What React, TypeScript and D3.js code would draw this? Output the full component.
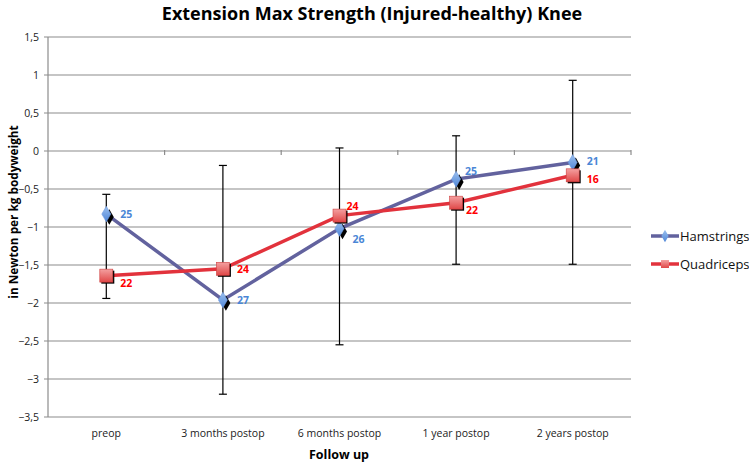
import React, { useEffect, useRef } from 'react';
import * as d3 from 'd3';

const categories = ['preop', '3 months postop', '6 months postop', '1 year postop', '2 years postop'];
const hamstrings = [-0.83, -1.96, -1.02, -0.37, -0.15];
const quadriceps = [-1.64, -1.55, -0.85, -0.68, -0.32];
const hamstringsN = ['25', '27', '26', '25', '21'];
const quadricepsN = ['22', '24', '24', '22', '16'];
const errHigh = [-0.57, -0.19, 0.04, 0.2, 0.93];
const errLow = [-1.94, -3.2, -2.55, -1.49, -1.49];
const yTicks = [1.5, 1, 0.5, 0, -0.5, -1, -1.5, -2, -2.5, -3, -3.5];

// label offsets [dx, dy] relative to the point (dy = vertical centre offset)
const hamLabelPos = [[14, 0], [14, 0], [13, 10], [9, -8], [14, -1]];
const quadLabelPos = [[14, 7], [14, 0], [7, -10], [10, 7], [14, 4]];

const FONT = '"Open Sans", sans-serif';

const App: React.FC = () => {
  const ref = useRef<SVGSVGElement>(null);

  useEffect(() => {
    const svgWidth = 749, svgHeight = 462;
    const margin = { top: 37, left: 48, right: 118, bottom: 45 };

    const svg = d3.select(ref.current);
    svg.selectAll('*').remove();

    const x = d3.scaleBand()
      .domain(categories)
      .range([margin.left, svgWidth - margin.right]);

    const y = d3.scaleLinear()
      .domain([-3.5, 1.5])
      .range([svgHeight - margin.bottom, margin.top]);

    const cx = (c: string) => (x(c) ?? 0) + x.bandwidth() / 2;

    // title
    svg.append('text')
      .attr('x', 372).attr('y', 20)
      .attr('text-anchor', 'middle')
      .attr('font-family', FONT).attr('font-weight', 'bold').attr('font-size', 18)
      .attr('fill', '#000')
      .text('Extension Max Strength (Injured-healthy) Knee');

    // gridlines
    svg.append('g').selectAll('line')
      .data(yTicks)
      .enter().append('line')
      .attr('x1', margin.left - 4).attr('x2', svgWidth - margin.right)
      .attr('y1', d => y(d)).attr('y2', d => y(d))
      .attr('stroke', '#8c8c8c').attr('stroke-width', 1.2);

    // y axis line
    svg.append('line')
      .attr('x1', margin.left).attr('x2', margin.left)
      .attr('y1', y(1.5)).attr('y2', y(-3.5))
      .attr('stroke', '#8c8c8c').attr('stroke-width', 1.2);

    // y tick labels
    svg.append('g').selectAll('text')
      .data(yTicks)
      .enter().append('text')
      .attr('x', margin.left - 9).attr('y', d => y(d) + 4)
      .attr('text-anchor', 'end')
      .attr('font-family', FONT).attr('font-size', 10.5).attr('fill', '#222')
      .text(d => d3.format('')(d).replace('.', ','));

    // category boundary ticks on the zero line
    const bounds = categories.map(c => (x(c) ?? 0) + x.bandwidth());
    svg.append('g').selectAll('line')
      .data(bounds)
      .enter().append('line')
      .attr('x1', d => d).attr('x2', d => d)
      .attr('y1', y(0) - 1).attr('y2', y(0) + 4)
      .attr('stroke', '#8c8c8c').attr('stroke-width', 1.2);

    // x labels
    svg.append('g').selectAll('text')
      .data(categories)
      .enter().append('text')
      .attr('x', d => cx(d)).attr('y', svgHeight - margin.bottom + 20)
      .attr('text-anchor', 'middle')
      .attr('font-family', FONT).attr('font-size', 10.5).attr('fill', '#222')
      .text(d => d);

    // axis titles
    svg.append('text')
      .attr('x', 339).attr('y', 459)
      .attr('text-anchor', 'middle')
      .attr('font-family', FONT).attr('font-weight', 'bold').attr('font-size', 12.5)
      .text('Follow up');

    svg.append('text')
      .attr('transform', 'translate(18,212) rotate(-90)')
      .attr('text-anchor', 'middle')
      .attr('font-family', FONT).attr('font-weight', 'bold').attr('font-size', 11.8)
      .text('in Newton per kg bodyweight');

    // error bars
    const eb = svg.append('g').attr('stroke', '#000').attr('stroke-width', 1.2);
    categories.forEach((c, i) => {
      eb.append('line')
        .attr('x1', cx(c)).attr('x2', cx(c))
        .attr('y1', y(errHigh[i])).attr('y2', y(errLow[i]));
      [errHigh[i], errLow[i]].forEach(v => {
        eb.append('line')
          .attr('x1', cx(c) - 4).attr('x2', cx(c) + 4)
          .attr('y1', y(v)).attr('y2', y(v));
      });
    });

    const defs = svg.append('defs');
    const rg = defs.append('linearGradient').attr('id', 'quadGrad')
      .attr('x1', 0).attr('y1', 0).attr('x2', 0).attr('y2', 1);
    rg.append('stop').attr('offset', '0%').attr('stop-color', '#f4a0a0');
    rg.append('stop').attr('offset', '100%').attr('stop-color', '#e04848');
    const bg = defs.append('linearGradient').attr('id', 'hamGrad')
      .attr('x1', 0).attr('y1', 0).attr('x2', 0).attr('y2', 1);
    bg.append('stop').attr('offset', '0%').attr('stop-color', '#9cc0ee');
    bg.append('stop').attr('offset', '100%').attr('stop-color', '#4f86d8');

    const line = d3.line<number>()
      .x((_, i) => cx(categories[i]))
      .y(d => y(d));

    svg.append('path')
      .datum(hamstrings)
      .attr('d', line)
      .attr('fill', 'none').attr('stroke', '#62629e').attr('stroke-width', 3.5);

    svg.append('path')
      .datum(quadriceps)
      .attr('d', line)
      .attr('fill', 'none').attr('stroke', '#e2323c').attr('stroke-width', 3.5);

    const diamond = d3.symbol().type(d3.symbolDiamond).size(70);

    // shadows
    svg.append('g').selectAll('path')
      .data(hamstrings)
      .enter().append('path')
      .attr('d', diamond)
      .attr('transform', (d, i) => `translate(${cx(categories[i]) + 3},${y(d) + 3})`)
      .attr('fill', '#000');

    svg.append('g').selectAll('path')
      .data(hamstrings)
      .enter().append('path')
      .attr('d', diamond)
      .attr('transform', (d, i) => `translate(${cx(categories[i])},${y(d)})`)
      .attr('fill', 'url(#hamGrad)').attr('stroke', '#6f9be0').attr('stroke-width', 0.6);

    svg.append('g').selectAll('rect')
      .data(quadriceps)
      .enter().append('rect')
      .attr('x', (d, i) => cx(categories[i]) - 5)
      .attr('y', d => y(d) - 5)
      .attr('width', 13).attr('height', 13)
      .attr('fill', '#000');

    svg.append('g').selectAll('rect')
      .data(quadriceps)
      .enter().append('rect')
      .attr('x', (d, i) => cx(categories[i]) - 6.5)
      .attr('y', d => y(d) - 6.5)
      .attr('width', 13).attr('height', 13)
      .attr('fill', 'url(#quadGrad)').attr('stroke', '#d04040').attr('stroke-width', 0.6);

    // data labels
    svg.append('g').selectAll('text')
      .data(hamstrings)
      .enter().append('text')
      .attr('x', (d, i) => cx(categories[i]) + hamLabelPos[i][0])
      .attr('y', (d, i) => y(d) + hamLabelPos[i][1] + 4)
      .attr('font-family', FONT).attr('font-weight', 'bold').attr('font-size', 10.5)
      .attr('fill', '#4a86d6')
      .text((d, i) => hamstringsN[i]);

    svg.append('g').selectAll('text')
      .data(quadriceps)
      .enter().append('text')
      .attr('x', (d, i) => cx(categories[i]) + quadLabelPos[i][0])
      .attr('y', (d, i) => y(d) + quadLabelPos[i][1] + 4)
      .attr('font-family', FONT).attr('font-weight', 'bold').attr('font-size', 10.5)
      .attr('fill', '#ff0000')
      .text((d, i) => quadricepsN[i]);

    // legend
    const legend = svg.append('g').attr('transform', 'translate(651,236)');
    const series = [
      { name: 'Hamstrings', stroke: '#62629e', marker: 'diamond' },
      { name: 'Quadriceps', stroke: '#e2323c', marker: 'square' },
    ];
    series.forEach((s, i) => {
      const g = legend.append('g').attr('transform', `translate(0,${i * 28})`);
      g.append('line').attr('x1', 0).attr('x2', 28).attr('y1', 0).attr('y2', 0)
        .attr('stroke', s.stroke).attr('stroke-width', 3.5);
      if (s.marker === 'diamond') {
        g.append('path').attr('d', d3.symbol().type(d3.symbolDiamond).size(45)())
          .attr('transform', 'translate(14,0)').attr('fill', 'url(#hamGrad)');
      } else {
        g.append('rect').attr('x', 10).attr('y', -4).attr('width', 8).attr('height', 8)
          .attr('fill', 'url(#quadGrad)');
      }
      g.append('text').attr('x', 29).attr('y', 5)
        .attr('font-family', FONT).attr('font-size', 13).attr('fill', '#111')
        .text(s.name);
    });
  }, []);

  return (
    <svg ref={ref} width={749} height={462}
      style={{ position: 'absolute', left: 0, top: 0, background: '#fff' }} />
  );
};

export default App;
